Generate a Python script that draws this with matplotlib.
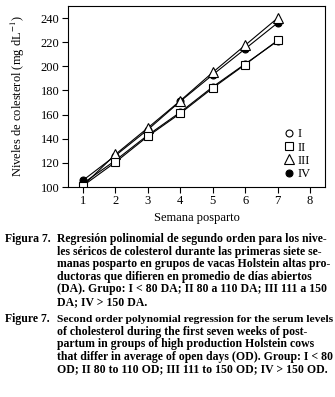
import matplotlib
matplotlib.use("Agg")
import matplotlib.pyplot as plt

weeks = [1, 2, 3, 4, 5, 6, 7]
group_i = [103, 122, 143, 162, 183, 202, 221]
group_ii = [101, 120.5, 142, 161, 182, 201.5, 221.5]
group_iii = [101, 127, 149, 171.5, 195, 217.5, 240]
group_iv = [105.5, 126, 147.5, 171, 193, 214.5, 236]

caption_es = [
    "Regresión polinomial de segundo orden para los nive-",
    "les séricos de colesterol durante las primeras siete se-",
    "manas posparto en grupos de vacas Holstein altas pro-",
    "ductoras que difieren en promedio de días abiertos",
    "(DA). Grupo: I < 80 DA; II 80 a 110 DA; III 111 a 150",
    "DA; IV > 150 DA.",
]
caption_en = [
    "Second order polynomial regression for the serum levels",
    "of cholesterol during the first seven weeks of post-",
    "partum in groups of high production Holstein cows",
    "that differ in average of open days (OD). Group: I < 80",
    "OD; II 80 to 110 OD; III 111 to 150 OD; IV > 150 OD.",
]

plt.rcParams['font.family'] = ['Liberation Serif', 'DejaVu Serif']
plt.rcParams['mathtext.fontset'] = 'stix'

W, H = 335, 397
fig = plt.figure(figsize=(W / 100, H / 100), dpi=100)
ax = fig.add_axes([68 / W, 1 - 187 / H, 257 / W, 181 / H])

lw = 0.8
ax.plot(weeks, group_i, '-o', color='black', lw=lw, ms=5, mfc='white', mec='black', mew=0.8, label='I')
ax.plot(weeks, group_iv, '-o', color='black', lw=lw, ms=5, mfc='black', mec='black', mew=0.8, label='IV')
ax.plot(weeks, group_iii, '-^', color='black', lw=lw, ms=6.5, mfc='white', mec='black', mew=0.8, label='III')
ax.plot(weeks, group_ii, '-s', color='black', lw=lw, ms=6, mfc='white', mec='black', mew=0.8, label='II')

ax.set_xlim(0.54, 8.46)
ax.set_ylim(100, 250)
ax.set_xticks(range(1, 9))
ax.set_yticks(range(100, 241, 20))
ax.tick_params(direction='out', length=4, width=0.8, labelsize=9, pad=2)
for s in ax.spines.values():
    s.set_linewidth(0.8)
ax.set_xlabel("Semana posparto", fontsize=9, labelpad=3)
ax.set_ylabel("Niveles de colesterol (mg dL$^{-1}$)", fontsize=9, labelpad=10)

h, l = ax.get_legend_handles_labels()
order = [0, 3, 2, 1]
leg = ax.legend([h[i] for i in order], [l[i] for i in order], loc='lower right',
                frameon=False, fontsize=9, handlelength=0.6, handletextpad=0.4,
                labelspacing=0.1, borderaxespad=0.3, bbox_to_anchor=(0.98, -0.01))
for lh in leg.get_lines():
    lh.set_linestyle('none')

# caption, one string per line, shrunk where a line would run past the edge
renderer = fig.canvas.get_renderer()
fs = 8.5
step = 12.6
left, right = 57, 331


def caption_block(lines, y0):
    for n, line in enumerate(lines):
        t = fig.text(left / W, 1 - (y0 + n * step) / H, line, fontsize=fs,
                     fontweight='bold', va='baseline')
        w = t.get_window_extent(renderer).width
        if w > right - left:
            t.set_fontsize(fs * (right - left) / w)


fig.text(5 / W, 1 - 242 / H, "Figura 7.", fontsize=fs, fontweight='bold', va='baseline')
caption_block(caption_es, 242)
fig.text(5 / W, 1 - 322 / H, "Figure 7.", fontsize=fs, fontweight='bold', va='baseline')
caption_block(caption_en, 322)

fig.savefig("out.png", dpi=100)
